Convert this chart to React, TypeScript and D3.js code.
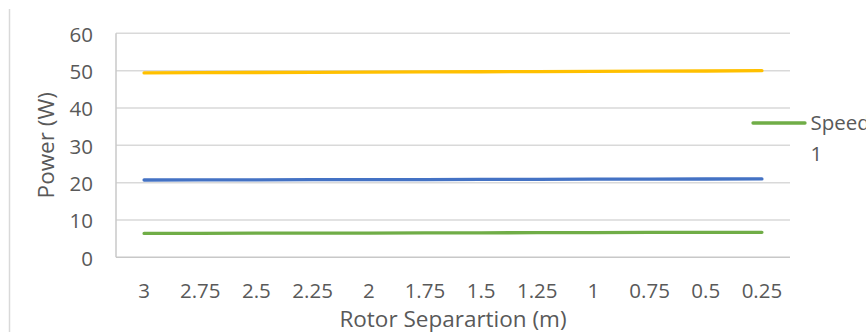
import React from "react";
import * as d3 from "d3";

const categories = ["3", "2.75", "2.5", "2.25", "2", "1.75", "1.5", "1.25", "1", "0.75", "0.5", "0.25"];
const speedHigh = [49.4, 49.45, 49.5, 49.55, 49.6, 49.65, 49.7, 49.75, 49.8, 49.85, 49.9, 50.0];
const speedMid = [20.7, 20.72, 20.75, 20.78, 20.8, 20.83, 20.86, 20.89, 20.92, 20.95, 20.98, 21.0];
const speedLow = [6.4, 6.43, 6.45, 6.48, 6.5, 6.53, 6.56, 6.59, 6.62, 6.65, 6.68, 6.7];
const yTicks = [0, 10, 20, 30, 40, 50, 60];
const legendLabel = ["Speed", "1"];

const W = 866;
const H = 332;
const plot = { left: 116, right: 790, top: 33.3, bottom: 257.3 };
const FONT = "'Open Sans', sans-serif";
const TEXT = "#595959";
const TICK_FS = 20.5;
const TITLE_FS = 22.5;

export default function App() {
  const x = d3.scaleBand<string>().domain(categories).range([plot.left, plot.right]);
  const y = d3.scaleLinear().domain([0, 60]).range([plot.bottom, plot.top]);
  const cx = (c: string) => (x(c) as number) + x.bandwidth() / 2;
  const line = d3
    .line<number>()
    .x((_, i) => cx(categories[i]))
    .y((v) => y(v));
  const series = [
    { values: speedHigh, color: "#FFC000" },
    { values: speedMid, color: "#4472C4" },
    { values: speedLow, color: "#70AD47" },
  ];
  return (
    <svg
      width={W}
      height={H}
      style={{ position: "absolute", left: 0, top: 0, background: "#fff" }}
      fontFamily={FONT}
    >
      <line x1={9.5} x2={9.5} y1={9} y2={H} stroke="#d9d9d9" strokeWidth={1.5} />
      {yTicks.map((t) => (
        <g key={t}>
          <line x1={plot.left} x2={plot.right} y1={y(t)} y2={y(t)} stroke={t === 0 ? "#c8c8c8" : "#d9d9d9"} strokeWidth={1.5} />
          <text x={93} y={y(t) + 8.4} textAnchor="end" fontSize={TICK_FS} fill={TEXT}>
            {t}
          </text>
        </g>
      ))}
      <line x1={plot.left} x2={plot.left} y1={plot.top} y2={plot.bottom} stroke="#c8c8c8" strokeWidth={1.5} />
      {categories.map((c) => (
        <text key={c} x={cx(c)} y={297.5} textAnchor="middle" fontSize={TICK_FS} fill={TEXT}>
          {c}
        </text>
      ))}
      {series.map((s, i) => (
        <path key={i} d={line(s.values) || ""} fill="none" stroke={s.color} strokeWidth={3.3} strokeLinecap="round" />
      ))}
      <text x={(plot.left + plot.right) / 2} y={326.5} textAnchor="middle" fontSize={TITLE_FS} fill={TEXT}>
        Rotor Separartion (m)
      </text>
      <text
        transform={`translate(46,${(plot.top + plot.bottom) / 2}) rotate(-90)`}
        dy="0.35em"
        textAnchor="middle"
        fontSize={TITLE_FS}
        fill={TEXT}
      >
        Power (W)
      </text>
      <line x1={753} x2={805} y1={123} y2={123} stroke="#70AD47" strokeWidth={3.3} strokeLinecap="round" />
      <text x={810.5} y={130.3} fontSize={TICK_FS} fill={TEXT}>
        {legendLabel[0]}
      </text>
      <text x={810.5} y={160.5} fontSize={TICK_FS} fill={TEXT}>
        {legendLabel[1]}
      </text>
    </svg>
  );
}
